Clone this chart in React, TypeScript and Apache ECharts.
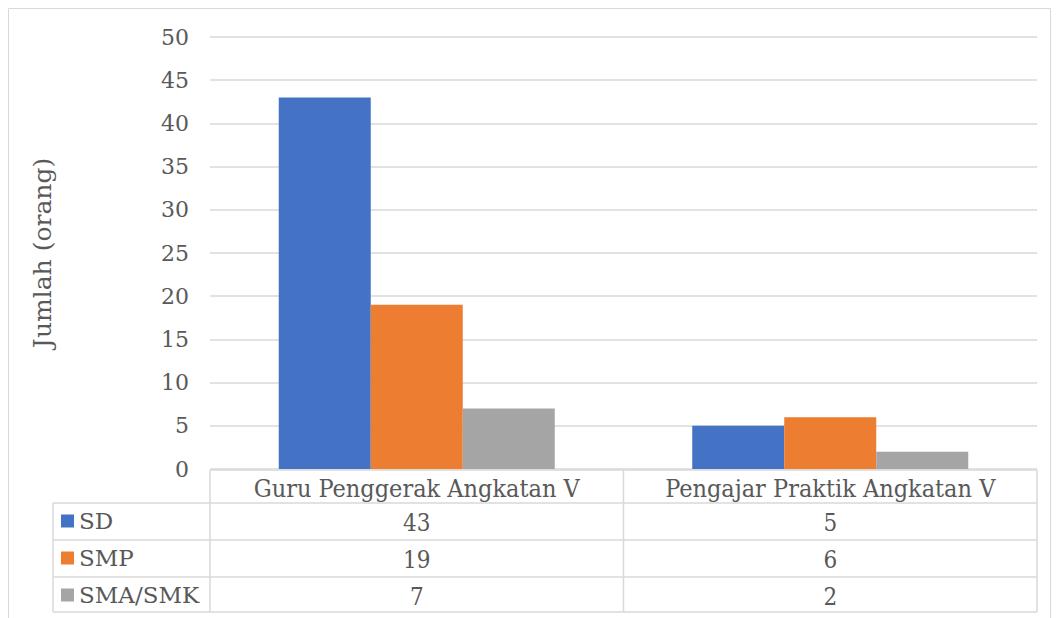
import React, { useEffect, useRef } from "react";
import * as echarts from "echarts";

const categories = ["Guru Penggerak Angkatan V", "Pengajar Praktik Angkatan V"];
const seriesNames = ["SD", "SMP", "SMA/SMK"];
const sdValues = [43, 5];
const smpValues = [19, 6];
const smaValues = [7, 2];
const colors = ["#4472C4", "#ED7D31", "#A5A5A5"];

const W = 1059;
const H = 618;
const GL = 210;
const GR = 1037;
const GT = 37;
const GB = 469;
const WIDE = "'DejaVu Serif', serif";
const COND = "'DejaVu Serif Condensed', 'Liberation Serif', serif";
const TXT = "#595959";
const LINE = "#D9D9D9";

export default function App() {
  const ref = useRef<HTMLDivElement>(null);
  useEffect(() => {
    if (!ref.current) return;
    const chart = echarts.init(ref.current, null, { renderer: "svg" });
    const values = [sdValues, smpValues, smaValues];
    const rowTops = [503, 540, 577];
    const rowH = 37;
    const colW = (GR - GL) / categories.length;
    const graphics: any[] = [
      { type: "rect", shape: { x: 8.5, y: 8.5, width: 1042, height: 700 }, style: { fill: "none", stroke: LINE, lineWidth: 1 }, silent: true },
      { type: "line", shape: { x1: GL, y1: 470, x2: GR, y2: 470 }, style: { stroke: LINE, lineWidth: 1.5 } },
      { type: "line", shape: { x1: 53, y1: 503, x2: GR, y2: 503 }, style: { stroke: LINE, lineWidth: 1.5 } },
      { type: "line", shape: { x1: 53, y1: 540, x2: GR, y2: 540 }, style: { stroke: LINE, lineWidth: 1.5 } },
      { type: "line", shape: { x1: 53, y1: 577, x2: GR, y2: 577 }, style: { stroke: LINE, lineWidth: 1.5 } },
      { type: "line", shape: { x1: 53, y1: 612, x2: GR, y2: 612 }, style: { stroke: LINE, lineWidth: 1.5 } },
      { type: "line", shape: { x1: 53, y1: 503, x2: 53, y2: 612 }, style: { stroke: LINE, lineWidth: 1.5 } },
      { type: "line", shape: { x1: GL, y1: 470, x2: GL, y2: 612 }, style: { stroke: LINE, lineWidth: 1.5 } },
      { type: "line", shape: { x1: GL + colW, y1: 470, x2: GL + colW, y2: 612 }, style: { stroke: LINE, lineWidth: 1.5 } },
      { type: "line", shape: { x1: GR, y1: 470, x2: GR, y2: 612 }, style: { stroke: LINE, lineWidth: 1.5 } },
    ];
    values.forEach((vals, r) => {
      vals.forEach((v, c) => {
        graphics.push({
          type: "text",
          x: GL + colW * (c + 0.5),
          y: rowTops[r] + rowH / 2 + 1,
          style: { text: String(v), fill: TXT, font: `24px ${COND}`, align: "center", verticalAlign: "middle" },
        });
      });
    });
    chart.setOption({
      animation: false,
      textStyle: { fontFamily: WIDE, color: TXT },
      grid: { left: GL, right: W - GR, top: GT, bottom: H - GB, containLabel: false },
      legend: {
        orient: "vertical",
        left: 61,
        top: 509,
        padding: 0,
        itemGap: 13,
        itemWidth: 13,
        itemHeight: 13,
        icon: "rect",
        data: seriesNames,
        textStyle: { color: TXT, fontFamily: WIDE, fontSize: 23, lineHeight: 24 },
      },
      xAxis: {
        type: "category",
        data: categories,
        axisLine: { show: false },
        axisTick: { show: false },
        axisLabel: { color: TXT, fontFamily: COND, fontSize: 25, margin: 7, interval: 0 },
      },
      yAxis: {
        type: "value",
        min: 0,
        max: 50,
        interval: 5,
        name: "Jumlah (orang)",
        nameLocation: "middle",
        nameGap: 155,
        nameTextStyle: { color: TXT, fontFamily: WIDE, fontSize: 25 },
        axisLine: { show: false },
        axisTick: { show: false },
        axisLabel: { color: TXT, fontFamily: WIDE, fontSize: 22, margin: 21 },
        splitLine: { lineStyle: { color: LINE, width: 1.5 } },
      },
      series: seriesNames.map((name, i) => ({
        name,
        type: "bar",
        data: values[i],
        barWidth: 92,
        barGap: "0%",
        itemStyle: { color: colors[i] },
      })),
      graphic: graphics,
    });
    return () => chart.dispose();
  }, []);
  return <div ref={ref} style={{ position: "fixed", left: 0, top: 0, width: W, height: H, background: "#fff" }} />;
}
